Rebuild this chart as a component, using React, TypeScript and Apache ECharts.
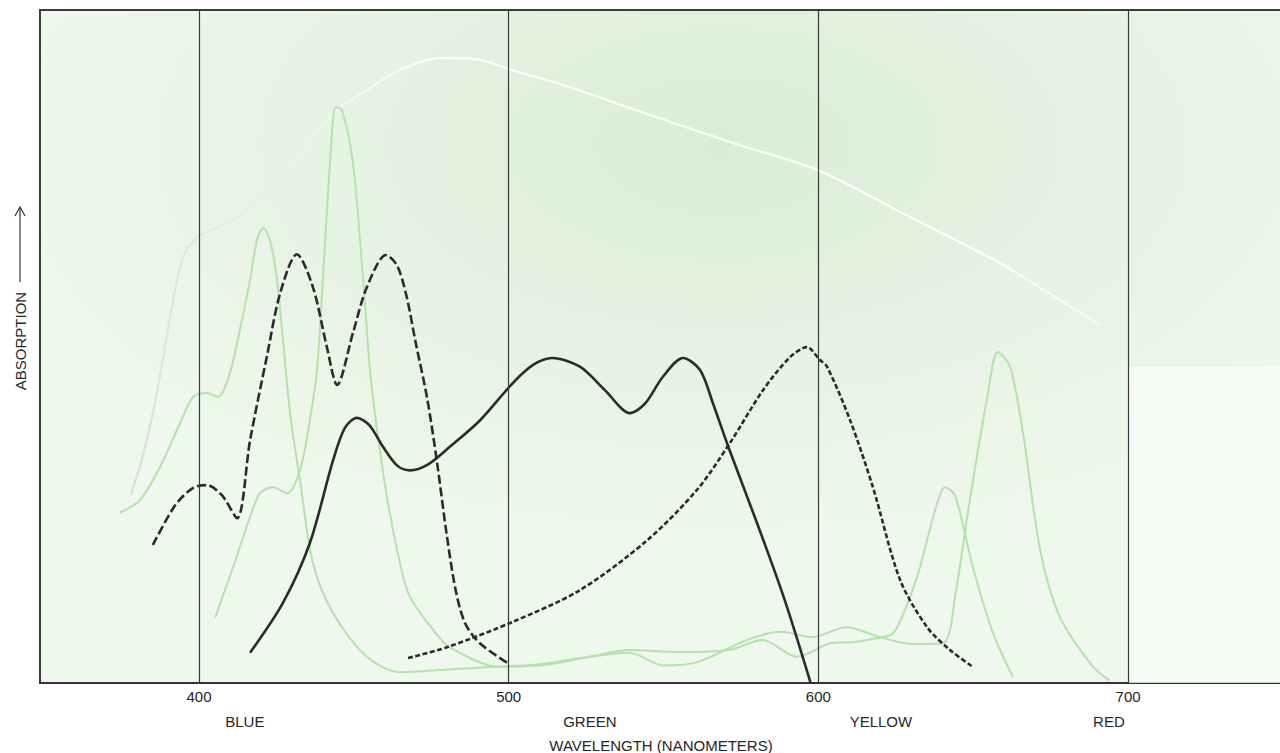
import React, { useEffect, useRef } from "react";
import * as echarts from "echarts";

// ---- axis / label data ----
const wavelengthTicks = [400, 500, 600, 700];
const bandNames = ["BLUE", "GREEN", "YELLOW", "RED"];
const bandCenters = [414.8, 526.2, 620.2, 693.8];

// ---- curves: [wavelength nm, relative absorption 0-100] ----
const envelope: [number, number][] = [
  [378, 28], [382, 34], [385.5, 41], [388.5, 48.5], [391.5, 56.5], [394.8, 63.2], [399.4, 66.3],
  [405, 67.5], [411, 68.8], [419, 72], [427.1, 75.8], [435, 80], [443.3, 84.7],
  [454.2, 88.1], [464.9, 91.1], [477.8, 92.9], [490.7, 92.6], [500.7, 91.1],
  [516.6, 89.0], [545.6, 84.4], [574.7, 79.9], [599.9, 76.2], [626.4, 70.0],
  [658.6, 62.4], [678.0, 56.9], [690.9, 53.2],
];

const chlorophyllA: [number, number][] = [
  [374.5, 25.3], [381, 27.2], [387.4, 32.1], [393.9, 38.6], [398.1, 42.5], [402.6, 43.1],
  [406.1, 42.5], [410, 46.1], [413.2, 52.5], [416.5, 59.9], [418.7, 65.8], [420.7, 67.6],
  [422.9, 65.8], [425.2, 59.9], [429.4, 40.1], [432.6, 30.2], [436.8, 17.8], [443.3, 10.4],
  [454.2, 3.9], [464.9, 1.6], [480, 2.0], [495, 2.4], [510, 2.8], [523, 3.7], [539, 4.5],
  [550, 2.6], [561, 3.1], [577, 6.4], [588, 7.6], [598, 6.8], [609, 8.3], [620, 6.8],
  [630, 5.8], [640.2, 5.9], [644.5, 14], [648.9, 27.2], [654.4, 42.1], [658, 49.2],
  [661.9, 47], [666.1, 37.1], [671.6, 19.8], [678, 9.8], [688.7, 2.4], [694, 0.4],
];

const chlorophyllB: [number, number][] = [
  [405.2, 9.7], [411, 17.2], [416.5, 24.7], [419.7, 28.2], [423.9, 29.1], [428.4, 28.2],
  [432.6, 31.6], [435.8, 39.1], [438.1, 46.5], [440, 59.9], [442.3, 77.3], [444.2, 85.6],
  [446.2, 85.1], [449.7, 77.3], [453, 59.9], [455.2, 46.5], [457.5, 37.6], [460.7, 27.6],
  [464.9, 17.8], [468.1, 12.8], [475.6, 7.9], [481, 5.3], [497, 2.4], [512, 2.7],
  [525, 3.8], [539, 4.9], [555, 4.6], [571, 4.9], [582, 6.4], [593, 3.9], [604, 5.9],
  [612, 6.1], [618, 6.6], [624.1, 7.4], [628.5, 11.5], [632.8, 17.2], [637.7, 25.7],
  [640.9, 29.1], [644.1, 27.9], [649.9, 17.2], [656.4, 7.4], [662.8, 0.9],
];

const carotenoid: [number, number][] = [
  [385.1, 20.5], [392.3, 26.4], [398.1, 29.0], [402.6, 29.4], [407.4, 27.9], [412.3, 24.5],
  [416.5, 36.1], [422, 48.7], [426.2, 57.9], [431.6, 63.7], [436.8, 58.8], [441.3, 49.9],
  [444.6, 44.3], [449.7, 52.0], [454.2, 58.8], [460.4, 63.6], [464, 62], [467, 57.5],
  [470, 50.5], [473.6, 42.5], [476.8, 33], [480, 22], [483, 13.5], [486, 8.8],
  [490.7, 5.9], [499.5, 3.0],
];

const phycoerythrin: [number, number][] = [
  [416.5, 4.5], [427.1, 11.9], [435.8, 20.8], [443.3, 33.1], [447.1, 37.9], [451, 39.4],
  [455, 38.3], [459.4, 35.1], [464, 32.3], [468.1, 31.6], [474, 32.5], [481, 35.1],
  [490.7, 39.0], [501.4, 44.6], [508, 47.3], [514, 48.3], [523, 47], [531.1, 43.5],
  [539.2, 40.1], [544, 41.5], [549.8, 45.5], [556.3, 48.3], [561.8, 46.5], [566, 41.5],
  [571, 35], [580, 24], [589, 12.5], [597.5, 0],
];

const phycocyanin: [number, number][] = [
  [467.5, 3.7], [480, 5.3], [501.4, 9.1], [523, 13.8], [544.7, 21.2], [560.8, 28.7],
  [571.5, 35.7], [582.1, 43.5], [590.8, 48.4], [596.3, 49.9], [600.5, 48], [602.8, 47],
  [610.2, 39.1], [617.6, 29.1], [626.4, 15.3], [635.1, 8.3], [642.5, 4.9], [649.9, 2.4],
];

const X_MIN = 348.66;
const X_MAX = 749.7;

const FONT = "Liberation Sans, Arial, Helvetica, sans-serif";
const TEXT = "#262626";
const PALE_GREEN = "#b6e0ae";

function lineSeries(name: string, data: [number, number][], lineStyle: any, extra: any = {}) {
  return {
    name,
    type: "line",
    data,
    smooth: 0.3,
    symbol: "none",
    showSymbol: false,
    silent: true,
    lineStyle,
    z: 3,
    ...extra,
  };
}

export default function App() {
  const ref = useRef<HTMLDivElement>(null);

  useEffect(() => {
    const chart = echarts.init(ref.current!, null, { renderer: "svg" });
    const option: any = {
      animation: false,
      backgroundColor: "#ffffff",
      textStyle: { fontFamily: FONT },
      grid: {
        left: 40,
        right: -2,
        top: 10,
        bottom: 70,
        containLabel: false,
        outerBoundsMode: "none",
        show: true,
        borderColor: "#3c3c3c",
        borderWidth: 2,
        backgroundColor: new echarts.graphic.RadialGradient(0.55, 0.2, 0.6, [
          { offset: 0, color: "#d9edd5" },
          { offset: 0.5, color: "#e5f3e2" },
          { offset: 1, color: "#eef8ec" },
        ]),
      },
      xAxis: [
        {
          type: "value",
          min: X_MIN,
          max: X_MAX,
          position: "bottom",
          axisLine: { show: true, onZero: false, lineStyle: { color: "#333", width: 2 } },
          axisTick: { show: false },
          splitLine: { show: false },
          axisLabel: {
            customValues: wavelengthTicks,
            color: TEXT,
            fontSize: 15,
            fontFamily: FONT,
            margin: 6,
            hideOverlap: false,
          },
        },
        {
          type: "value",
          min: X_MIN,
          max: X_MAX,
          position: "bottom",
          offset: 24,
          axisLine: { show: false },
          axisTick: { show: false },
          splitLine: { show: false },
          axisLabel: {
            customValues: bandCenters,
            color: TEXT,
            fontSize: 15,
            fontFamily: FONT,
            margin: 7,
            hideOverlap: false,
            formatter: (v: number) => {
              const i = bandCenters.findIndex((c) => Math.abs(c - v) < 0.01);
              return i >= 0 ? bandNames[i] : "";
            },
          },
          name: "WAVELENGTH (NANOMETERS)",
          nameLocation: "middle",
          nameGap: 31,
          nameTextStyle: { color: TEXT, fontSize: 15, fontFamily: FONT },
        },
      ],
      yAxis: {
        type: "value",
        min: 0,
        max: 100,
        axisLine: { show: false },
        axisTick: { show: false },
        axisLabel: { show: false },
        splitLine: { show: false },
      },
      graphic: [
        {
          type: "text",
          x: 20,
          y: 341,
          rotation: Math.PI / 2,
          style: {
            text: "ABSORPTION",
            fill: TEXT,
            fontSize: 15,
            fontFamily: FONT,
            align: "center",
            verticalAlign: "middle",
          },
        },
        {
          type: "line",
          shape: { x1: 20, y1: 282, x2: 20, y2: 208 },
          style: { stroke: "#333", lineWidth: 1.2 },
        },
        {
          type: "polyline",
          shape: { points: [[15, 216], [20, 207], [25, 216]] },
          style: { stroke: "#333", lineWidth: 1.2, fill: null },
        },
      ],
      series: [
        lineSeries(
          "envelope",
          envelope,
          {
            color: new echarts.graphic.LinearGradient(0, 0, 1, 0, [
              { offset: 0, color: "#cfe9c9" },
              { offset: 0.12, color: "#e2f2df" },
              { offset: 0.3, color: "#fbfefb" },
              { offset: 0.85, color: "#ffffff" },
              { offset: 1, color: "#f2faf0" },
            ]),
            width: 2.2,
          },
          {
            z: 1,
            markLine: {
              silent: true,
              symbol: "none",
              label: { show: false },
              lineStyle: { color: "#3a3a3a", width: 1.2, type: "solid" },
              data: wavelengthTicks.map((v) => ({ xAxis: v })),
            },
            markArea: {
              silent: true,
              itemStyle: { color: "rgba(251,253,250,0.75)" },
              data: [[{ xAxis: 700, yAxis: 0 }, { xAxis: X_MAX, yAxis: 47 }]],
            },
          }
        ),
        lineSeries("chlorophyll a", chlorophyllA, { color: PALE_GREEN, width: 2 }),
        lineSeries("chlorophyll b", chlorophyllB, { color: PALE_GREEN, width: 2 }),
        lineSeries("carotenoid", carotenoid, { color: "#2b2b2b", width: 2.6, type: [9, 3.5] }, { z: 4 }),
        lineSeries("phycoerythrin", phycoerythrin, { color: "#2b2b2b", width: 2.6 }, { z: 4 }),
        lineSeries("phycocyanin", phycocyanin, { color: "#2b2b2b", width: 2.6, type: [5, 2.5] }, { z: 4 }),
      ],
    };
    chart.setOption(option);
    return () => chart.dispose();
  }, []);

  return (
    <div
      ref={ref}
      style={{ position: "fixed", left: 0, top: 0, width: 1280, height: 753 }}
    />
  );
}
